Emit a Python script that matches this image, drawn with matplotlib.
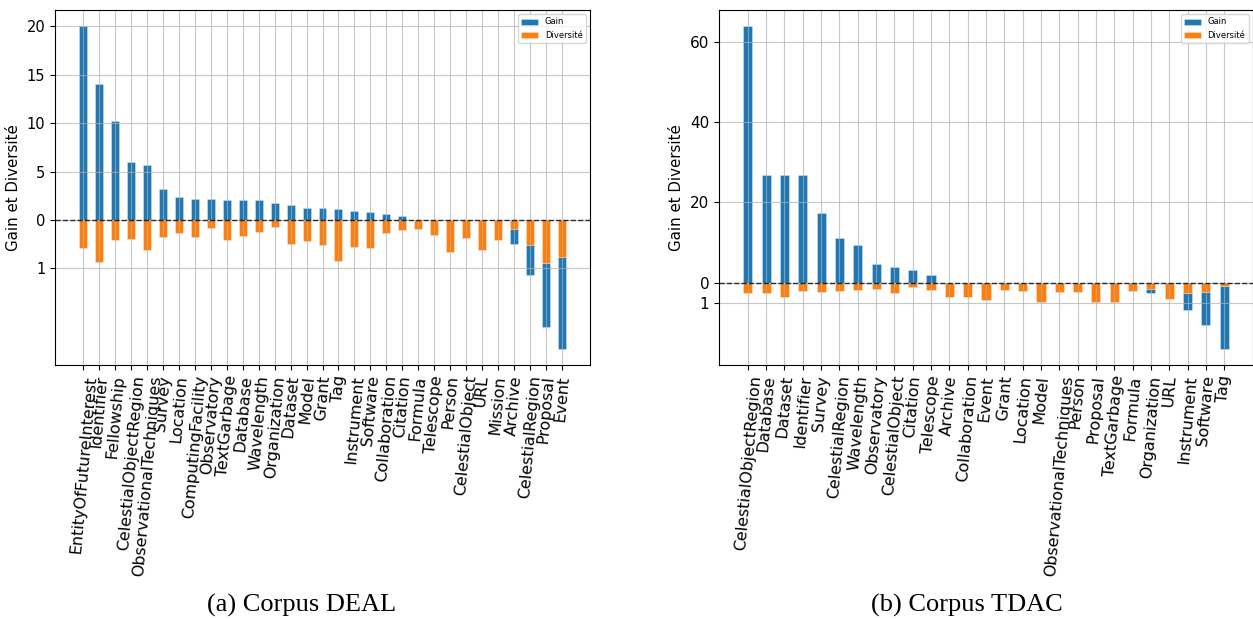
import matplotlib
matplotlib.use("Agg")
import matplotlib.pyplot as plt
import numpy as np

# ---- Corpus DEAL ----
deal_labels = ["EntityOfFutureInterest", "Identifier", "Fellowship", "CelestialObjectRegion",
               "ObservationalTechniques", "Survey", "Location", "ComputingFacility", "Observatory",
               "TextGarbage", "Database", "Wavelength", "Organization", "Dataset", "Model", "Grant",
               "Tag", "Instrument", "Software", "Collaboration", "Citation", "Formula", "Telescope",
               "Person", "CelestialObject", "URL", "Mission", "Archive", "CelestialRegion",
               "Proposal", "Event"]
deal_gain = [20.0, 14.0, 10.2, 6.0, 5.7, 3.2, 2.37, 2.13, 2.13, 2.06, 2.06, 2.03, 1.72, 1.55,
             1.24, 1.24, 1.1, 0.89, 0.82, 0.58, 0.45, 0.0, 0.0, 0.0, 0.0, 0.0, 0.0, -1.48,
             -3.02, -6.6, -9.49]
deal_div = [2.92, 4.33, 2.06, 1.96, 3.09, 1.72, 1.31, 1.72, 0.82, 2.06, 1.65, 1.2, 0.69, 2.51,
            2.13, 2.61, 4.19, 2.75, 2.92, 1.37, 1.03, 0.89, 1.51, 3.33, 1.89, 3.09, 2.06, 0.96,
            2.61, 4.47, 3.81]
deal_ticks = [-5, 0, 5, 10, 15, 20]
deal_ticklabels = ["1", "0", "5", "10", "15", "20"]

# ---- Corpus TDAC ----
tdac_labels = ["CelestialObjectRegion", "Database", "Dataset", "Identifier", "Survey",
               "CelestialRegion", "Wavelength", "Observatory", "CelestialObject", "Citation",
               "Telescope", "Archive", "Collaboration", "Event", "Grant", "Location", "Model",
               "ObservationalTechniques", "Person", "Proposal", "TextGarbage", "Formula",
               "Organization", "URL", "Instrument", "Software", "Tag"]
tdac_gain = [63.9, 26.7, 26.7, 26.7, 17.2, 11.14, 9.39, 4.57, 3.74, 3.0, 1.83, 0.0, 0.0, 0.0,
             0.0, 0.0, 0.0, 0.0, 0.0, 0.0, 0.0, 0.0, -1.08, 0.0, -4.16, -8.23, -15.79]
tdac_div = [2.74, 2.74, 3.57, 2.24, 2.41, 2.24, 1.83, 1.66, 2.58, 1.08, 1.83, 3.49, 3.49, 4.24,
            1.83, 2.16, 4.9, 2.49, 2.49, 4.9, 4.9, 2.0, 1.5, 4.16, 2.58, 2.41, 0.75]
tdac_ticks = [-5, 0, 20, 40, 60]
tdac_ticklabels = ["1", "0", "20", "40", "60"]

BLUE = "#1f77b4"
ORANGE = "#ff7f0e"

fig = plt.figure(figsize=(12.53, 6.19), dpi=100)
W, H = 1253, 619


def panel(rect, labels, gain, div, ticks, ticklabels, caption, cx, ytfs):
    ax = fig.add_axes([rect[0] / W, 1 - rect[3] / H, (rect[2] - rect[0]) / W, (rect[3] - rect[1]) / H])
    x = np.arange(len(labels))
    g = np.array(gain, dtype=float)
    d = -np.array(div, dtype=float)
    gbottom = np.where(g < 0, d, 0.0)
    ax.bar(x, g, 0.5, bottom=gbottom, color=BLUE, label="Gain",
           edgecolor=(1, 1, 1, 0.35), linewidth=0.6)
    ax.bar(x, d, 0.5, color=ORANGE, label="Diversité",
           edgecolor=(1, 1, 1, 0.35), linewidth=0.6)
    ax.axhline(0, color="black", linestyle="--", linewidth=1.0, alpha=0.8, zorder=3)
    ax.set_xticks(x)
    ax.set_xticklabels(labels, rotation=85, fontsize=11.5)
    ax.set_yticks(ticks)
    ax.set_yticklabels(ticklabels, fontsize=ytfs)
    ax.set_axisbelow("line")
    ax.grid(True, color="#b0b0b0", linewidth=0.8, alpha=0.7)
    ax.set_ylabel("Gain et Diversité", fontsize=10.8)
    ax.legend(loc="upper right", fontsize=6)
    fig.text(cx / W, 1 - 605 / H, caption, family="Liberation Serif", fontsize=19,
             ha="center", va="center")
    return ax


panel((55, 10, 590, 365), deal_labels, deal_gain, deal_div, deal_ticks, deal_ticklabels,
      "(a) Corpus DEAL", 302, 10.5)
panel((719, 10, 1253, 365), tdac_labels, tdac_gain, tdac_div, tdac_ticks, tdac_ticklabels,
      "(b) Corpus TDAC", 967, 11)

fig.savefig("out.png", dpi=100)
